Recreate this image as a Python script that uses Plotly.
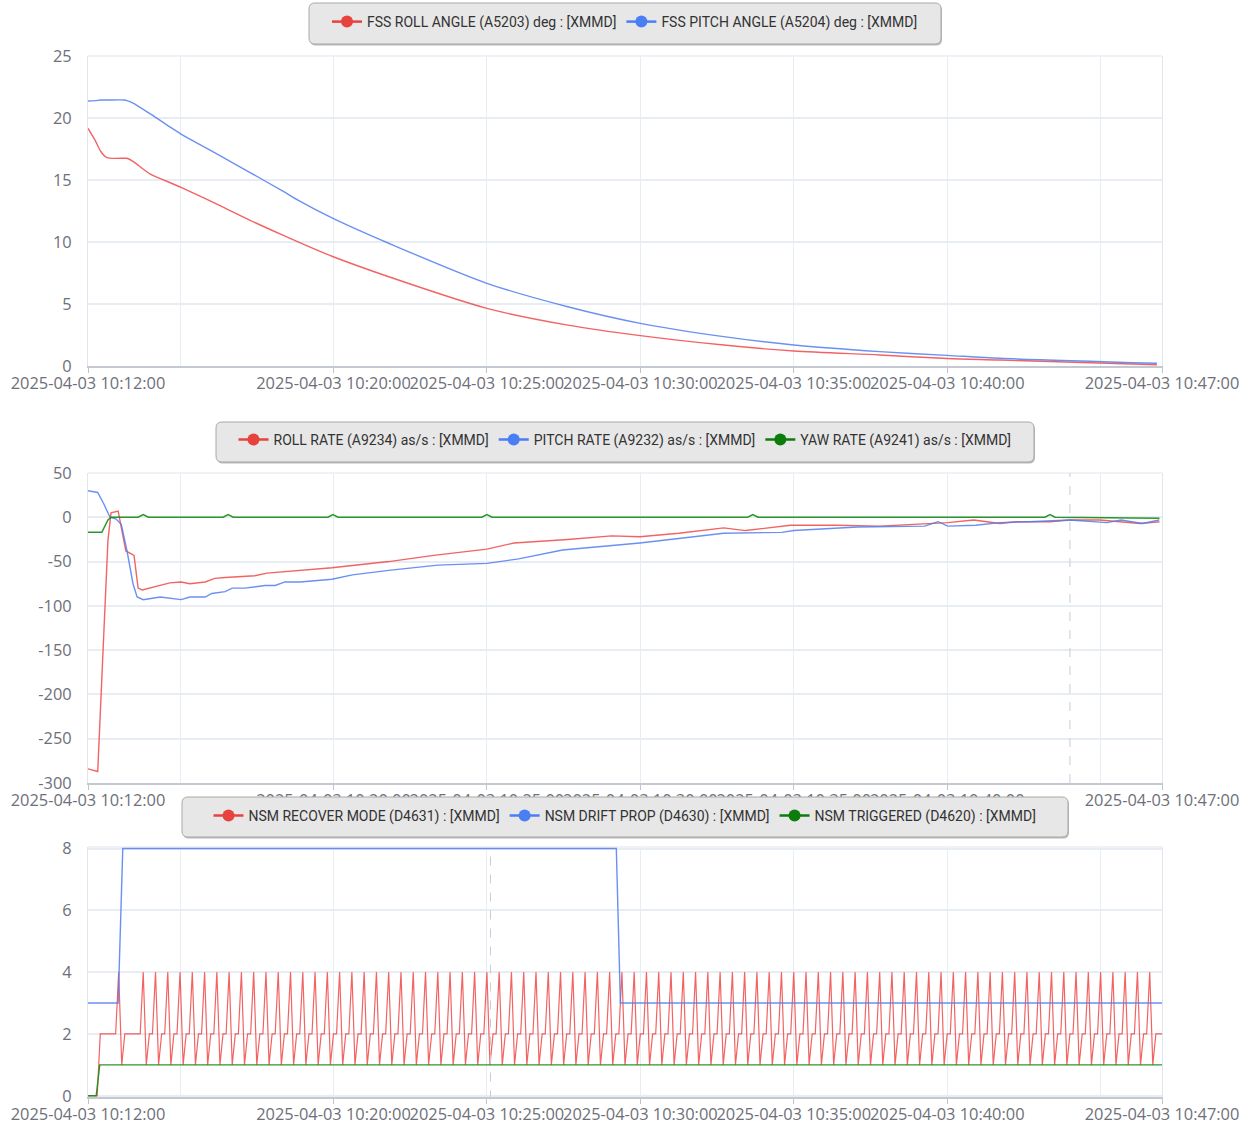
import plotly.graph_objects as go
import pandas as pd

W, H = 1250, 1124
DAY = "2025-04-03 "
X_RANGE = ["2025-04-03 10:12:00", "2025-04-03 10:47:00"]

# x-axis ticks
TICK_TIMES = ["10:12:00", "10:20:00", "10:25:00", "10:30:00", "10:35:00", "10:40:00", "10:47:00"]
TICK_LABELS = [DAY + t for t in TICK_TIMES]
MINOR_GRID_TIMES = ["10:15:00", "10:45:00"]

# ---------------- panel 1 : FSS angles (deg) ----------------
P1_TIME = ["10:12:00", "10:12:14", "10:12:25", "10:12:37", "10:13:12", "10:13:16", "10:13:28",
           "10:14:01", "10:14:34", "10:15:02", "10:15:39", "10:16:12", "10:17:17", "10:18:21",
           "10:18:54", "10:19:57", "10:21:48", "10:25:00", "10:27:38", "10:30:00", "10:32:43",
           "10:35:00", "10:37:48", "10:40:00", "10:41:43", "10:46:50"]
FSS_ROLL = [19.17, 18.2, 17.3, 16.8, 16.76, 16.75, 16.5, 15.5, 14.9, 14.4, 13.7, 13.05, 11.75, 10.55,
            9.95, 8.85, 7.2, 4.65, 3.3, 2.45, 1.69, 1.21, 0.89, 0.6, 0.48, 0.1]
FSS_PITCH = [21.37, 21.4, 21.45, 21.45, 21.45, 21.4, 21.2, 20.35, 19.45, 18.7, 17.85, 17.1, 15.6, 14.1,
             13.3, 11.95, 9.9, 6.67, 4.78, 3.44, 2.37, 1.69, 1.16, 0.86, 0.62, 0.22]

# ---------------- panel 2 : rates (as/s) ----------------
ROLL_RATE_TIME = ["10:12:00", "10:12:19", "10:12:29", "10:12:39", "10:12:45", "10:12:59", "10:13:05",
                  "10:13:14", "10:13:30", "10:13:38", "10:13:46", "10:14:01", "10:14:21", "10:14:40",
                  "10:15:02", "10:15:19", "10:15:49", "10:16:08", "10:16:28", "10:17:26", "10:17:50",
                  "10:18:35", "10:19:57", "10:21:48", "10:23:16", "10:25:00", "10:25:53", "10:27:38",
                  "10:29:04", "10:29:59", "10:31:15", "10:32:43", "10:33:26", "10:34:54", "10:36:22",
                  "10:37:48", "10:40:01", "10:40:52", "10:41:43", "10:42:16", "10:43:21", "10:44:00",
                  "10:44:58", "10:46:17", "10:46:55"]
ROLL_RATE = [-284, -287, -156, -26, 5, 7, -11, -38, -43, -80, -82, -80, -77, -74, -73, -75, -73, -69,
             -68, -66, -63, -61, -57, -50, -43, -36, -29, -25, -21, -22, -18, -12, -15, -9, -9, -10,
             -6, -3, -7, -5, -5, -3, -3, -7, -5]

PITCH_RATE_TIME = ["10:12:00", "10:12:19", "10:12:31", "10:12:43", "10:12:55", "10:13:05", "10:13:16",
                   "10:13:28", "10:13:36", "10:13:48", "10:14:21", "10:15:02", "10:15:19", "10:15:49",
                   "10:16:02", "10:16:28", "10:16:42", "10:17:07", "10:17:46", "10:18:06", "10:18:25",
                   "10:18:55", "10:19:57", "10:20:37", "10:21:48", "10:23:24", "10:25:00", "10:26:02",
                   "10:27:28", "10:28:48", "10:29:59", "10:31:15", "10:32:43", "10:34:37", "10:35:00",
                   "10:37:05", "10:39:16", "10:39:42", "10:40:01", "10:40:56", "10:41:43", "10:42:40",
                   "10:44:00", "10:45:12", "10:45:40", "10:46:22", "10:46:55"]
PITCH_RATE = [30, 28, 15, 0, -2, -8, -37, -75, -90, -93, -90, -93, -90, -90, -86, -84, -80, -80, -77,
              -77, -73, -73, -70, -65, -60, -54, -52, -47, -37, -33, -29, -24, -18, -17, -15, -11, -10,
              -5, -10, -9, -6, -5, -3, -6, -3, -7, -3]

YAW_RATE_TIME = ["10:12:00", "10:12:27", "10:12:39", "10:12:45",
                 "10:13:38", "10:13:48", "10:13:58", "10:16:24", "10:16:34", "10:16:44",
                 "10:19:49", "10:19:59", "10:20:09", "10:24:50", "10:25:00", "10:25:10",
                 "10:33:30", "10:33:40", "10:33:50", "10:43:11", "10:43:21", "10:43:31", "10:46:55"]
YAW_RATE = [-17, -17, -3, 0, 0, 3, 0, 0, 3, 0, 0, 3, 0, 0, 3, 0, 0, 3, 0, 0, 3, 0, -1]

# ---------------- panel 3 : NSM flags ----------------
NSM_SAMPLE_START = "2025-04-03 10:12:00"
NSM_SAMPLE_STEP = "6s"
NSM_RECOVER_MODE = (
    "000022222241222222"
    "412241224122412241224122412241224122412241224122412241224122"
    "412241224122412241224122412241224122412241224122412241224122"
    "412241224122412241224122412241224122412241224122412241224122"
    "412241224122412241224122412241224122412241224122412241224122"
    "412241224122412241224122412241224122412241224122412241224122"
    "41224122412241224122412241224122"
    "2"
)
DRIFT_PROP_TIME = ["10:12:00", "10:12:59", "10:13:08", "10:29:13", "10:29:21", "10:47:00"]
DRIFT_PROP = [3, 3, 8, 8, 3, 3]
TRIGGERED_TIME = ["10:12:00", "10:12:16", "10:12:23", "10:47:00"]
TRIGGERED = [0, 0, 1, 1]

# cursor (axis pointer) lines seen in the picture
CURSOR_P2 = "10:44:00"
CURSOR_P3 = "10:25:07"

RED_LINE = "rgba(240,72,72,0.85)"
BLUE_LINE = "rgba(80,125,240,0.85)"
GREEN_LINE = "rgba(20,140,20,0.9)"
RED_MK = "#e8423f"
BLUE_MK = "#4a7ef5"
GREEN_MK = "#0c7d0c"

LEG_NAMES_1 = ["FSS ROLL ANGLE (A5203) deg : [XMMD]", "FSS PITCH ANGLE (A5204) deg : [XMMD]"]
LEG_NAMES_2 = ["ROLL RATE (A9234) as/s : [XMMD]", "PITCH RATE (A9232) as/s : [XMMD]",
               "YAW RATE (A9241) as/s : [XMMD]"]
LEG_NAMES_3 = ["NSM RECOVER MODE (D4631) : [XMMD]", "NSM DRIFT PROP (D4630) : [XMMD]",
               "NSM TRIGGERED (D4620) : [XMMD]"]


def ts(lst):
    return [DAY + t for t in lst]


def px_x(x):
    return x / W


def px_y(y):
    return 1 - y / H


# plot areas in pixels: (left, right, top, bottom)
PLOTS = [(88, 1162, 56, 366), (88, 1162, 473, 783), (88, 1162, 847, 1097)]

fig = go.Figure()

# panel 1
fig.add_trace(go.Scatter(x=ts(P1_TIME), y=FSS_ROLL, mode="lines",
                         line=dict(color=RED_LINE, width=1.4, shape="spline", smoothing=0.8),
                         showlegend=False, xaxis="x", yaxis="y"))
fig.add_trace(go.Scatter(x=ts(P1_TIME), y=FSS_PITCH, mode="lines",
                         line=dict(color=BLUE_LINE, width=1.4, shape="spline", smoothing=0.8),
                         showlegend=False, xaxis="x", yaxis="y"))
# panel 2
fig.add_trace(go.Scatter(x=ts(ROLL_RATE_TIME), y=ROLL_RATE, mode="lines", line=dict(color=RED_LINE, width=1.4),
                         showlegend=False, xaxis="x2", yaxis="y2"))
fig.add_trace(go.Scatter(x=ts(PITCH_RATE_TIME), y=PITCH_RATE, mode="lines", line=dict(color=BLUE_LINE, width=1.4),
                         showlegend=False, xaxis="x2", yaxis="y2"))
fig.add_trace(go.Scatter(x=ts(YAW_RATE_TIME), y=YAW_RATE, mode="lines", line=dict(color=GREEN_LINE, width=1.5),
                         showlegend=False, xaxis="x2", yaxis="y2"))
# panel 3
rec_vals = [int(c) for c in NSM_RECOVER_MODE]
rec_time = pd.date_range(NSM_SAMPLE_START, periods=len(rec_vals), freq=NSM_SAMPLE_STEP)
fig.add_trace(go.Scatter(x=rec_time, y=rec_vals, mode="lines", line=dict(color=RED_LINE, width=1.2),
                         showlegend=False, xaxis="x3", yaxis="y3"))
fig.add_trace(go.Scatter(x=ts(DRIFT_PROP_TIME), y=DRIFT_PROP, mode="lines", line=dict(color=BLUE_LINE, width=1.4),
                         showlegend=False, xaxis="x3", yaxis="y3"))
fig.add_trace(go.Scatter(x=ts(TRIGGERED_TIME), y=TRIGGERED, mode="lines", line=dict(color=GREEN_LINE, width=1.4),
                         showlegend=False, xaxis="x3", yaxis="y3"))

# legend entries
for names, leg, ax, cols in [(LEG_NAMES_1, "legend", ("x", "y"), [RED_MK, BLUE_MK]),
                             (LEG_NAMES_2, "legend2", ("x2", "y2"), [RED_MK, BLUE_MK, GREEN_MK]),
                             (LEG_NAMES_3, "legend3", ("x3", "y3"), [RED_MK, BLUE_MK, GREEN_MK])]:
    for n, c in zip(names, cols):
        fig.add_trace(go.Scatter(x=[None], y=[None], mode="lines+markers", name=n, legend=leg,
                                 line=dict(color=c, width=2.5), marker=dict(color=c, size=12),
                                 xaxis=ax[0], yaxis=ax[1]))

TICK_FONT = dict(family="Open Sans", size=16.4, color="#6e7079")
GRID = "#e8ecf3"

Y_SETTINGS = [
    dict(range=[0, 25], tickvals=[0, 5, 10, 15, 20, 25], ticktext=["0", "5", "10", "15", "20", "25"]),
    dict(range=[-300, 50], tickvals=[-300, -250, -200, -150, -100, -50, 0, 50],
         ticktext=["-300", "-250", "-200", "-150", "-100", "-50", "0", "50"]),
    dict(range=[-0.04, 8.05], tickvals=[0, 2, 4, 6, 8], ticktext=["0", "2", "4", "6", "8"]),
]

layout = dict(width=W, height=H, margin=dict(l=0, r=0, t=0, b=0), paper_bgcolor="white",
              plot_bgcolor="white", showlegend=True)

for i, (l, r, t, b) in enumerate(PLOTS):
    sfx = "" if i == 0 else str(i + 1)
    layout["xaxis" + sfx] = dict(
        type="date", range=X_RANGE, domain=[px_x(l), px_x(r)], anchor="y" + sfx,
        tickmode="array", tickvals=ts(TICK_TIMES), ticktext=TICK_LABELS, tickangle=0,
        ticks="outside", ticklen=5, tickcolor="#bfc3cb", tickfont=TICK_FONT, ticklabelstandoff=-3,
        showgrid=True, gridcolor=GRID, gridwidth=1, zeroline=False,
        showline=True, linecolor="#c4c8d0", linewidth=1.5, automargin=False,
        minor=dict(tickmode="array", tickvals=ts(MINOR_GRID_TIMES), showgrid=True, gridcolor=GRID, ticks=""),
        fixedrange=True,
    )
    ys = Y_SETTINGS[i]
    layout["yaxis" + sfx] = dict(
        domain=[px_y(b), px_y(t)], anchor="x" + sfx, range=ys["range"], tickmode="array",
        tickvals=ys["tickvals"], ticktext=ys["ticktext"], tickfont=TICK_FONT,
        showgrid=True, gridcolor=GRID, gridwidth=1.5, zeroline=False, ticks="",
        showline=True, linecolor="#e0e5ee", mirror=True, ticklabelstandoff=12, automargin=False,
        fixedrange=True,
    )

LEG_BOXES = [(309, 3, 941, 44), (216, 422, 1034, 462), (182, 797, 1068, 837)]
LEG_TEXT_Y = [22, 440, 816]
for i, (x0, y0, x1, y1) in enumerate(LEG_BOXES):
    key = "legend" if i == 0 else "legend" + str(i + 1)
    layout[key] = dict(orientation="h", x=px_x((x0 + x1) / 2), xanchor="center",
                       y=px_y(LEG_TEXT_Y[i]), yanchor="middle", bgcolor="rgba(0,0,0,0)",
                       borderwidth=0, font=dict(family="Roboto", size=14, color="#333333"),
                       itemclick=False, itemdoubleclick=False)

fig.update_layout(**layout)


def rounded_path(x0, y0, x1, y1, r=6):
    def P(x, y):
        return f"{px_x(x):.6f},{px_y(y):.6f}"
    return (f"M {P(x0 + r, y0)} L {P(x1 - r, y0)} Q {P(x1, y0)} {P(x1, y0 + r)} "
            f"L {P(x1, y1 - r)} Q {P(x1, y1)} {P(x1 - r, y1)} L {P(x0 + r, y1)} "
            f"Q {P(x0, y1)} {P(x0, y1 - r)} L {P(x0, y0 + r)} Q {P(x0, y0)} {P(x0 + r, y0)} Z")


shapes = []
# top borders of plot areas
for i in range(3):
    sfx = "" if i == 0 else str(i + 1)
    shapes.append(dict(type="line", xref=f"x{sfx} domain", yref=f"y{sfx} domain", x0=0, x1=1, y0=1, y1=1,
                       line=dict(color="#e0e5ee", width=1), layer="below"))
# cursor lines
shapes.append(dict(type="line", xref="x2", yref="y2 domain", x0=DAY + CURSOR_P2, x1=DAY + CURSOR_P2, y0=0, y1=1,
                   line=dict(color="#c8ccd4", width=1, dash="dash"), layer="above"))
shapes.append(dict(type="line", xref="x3", yref="y3 domain", x0=DAY + CURSOR_P3, x1=DAY + CURSOR_P3, y0=-0.01, y1=1,
                   line=dict(color="#c8ccd4", width=1, dash="dash"), layer="above"))
# legend boxes (shadow + box)
for (x0, y0, x1, y1) in LEG_BOXES:
    shapes.append(dict(type="path", xref="paper", yref="paper", path=rounded_path(x0 + 1, y0 + 1.5, x1 + 1, y1 + 1.5),
                       fillcolor="#b9b9b9", line=dict(width=0), layer="above"))
    shapes.append(dict(type="path", xref="paper", yref="paper", path=rounded_path(x0, y0, x1, y1),
                       fillcolor="#e7e7e7", line=dict(color="#a9a9a9", width=1), layer="above"))

fig.update_layout(shapes=shapes)

fig.write_html("out.html", config={"displayModeBar": False},
               post_script="document.body.style.margin='0px';document.body.style.overflow='hidden';")
